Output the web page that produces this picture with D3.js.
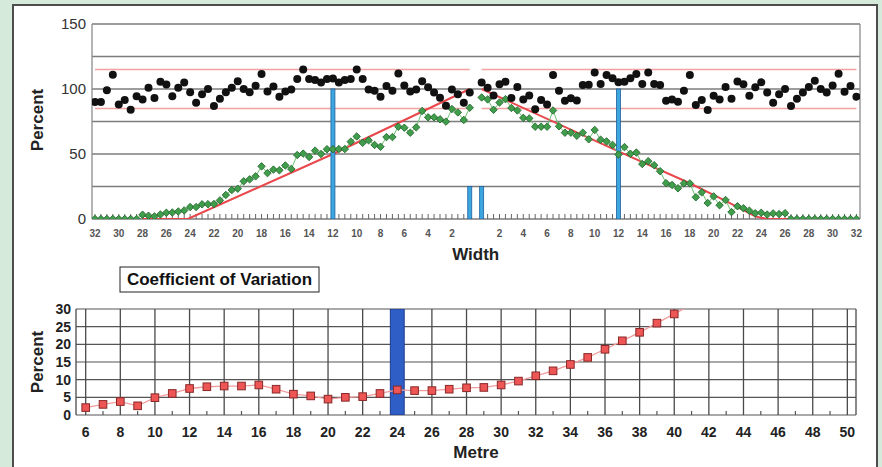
<!DOCTYPE html>
<html>
<head>
<meta charset="utf-8">
<script src="https://cdn.jsdelivr.net/npm/d3@7"></script>
<style>
    body { margin: 0; background: #d6eadc; }
    svg { display: block; font-family: "Liberation Sans", Arial, sans-serif; }
</style>
</head>
<body>
<svg id="chart" width="882" height="467"></svg>
<script>
// ---- top chart: width profile, sampled every 0.5 on each side ----
const leftPos = d3.range(-32, 0, 0.5);      // -32 ... -0.5
const rightPos = d3.range(0.5, 32.5, 0.5);  // 0.5 ... 32

const blackLeft = [90, 90, 99, 111, 88, 91.5, 84, 94.5, 92, 101, 93, 105.5, 103.5, 94.5, 101, 105,
    97.5, 89.5, 96, 100, 87, 92.5, 97.5, 101, 106, 100, 97.5, 102.5, 111.5, 98, 102, 94,
    98, 99.7, 107.7, 115, 107.7, 107, 105, 107.7, 108, 105, 107, 107.7, 115, 107.7, 99.7, 98.7,
    94, 102.3, 98.7, 112, 102.6, 98, 99.7, 106, 101.3, 97.4, 93.3, 87.2, 99.7, 96, 89.5, 97.4];
const blackRight = [105, 101, 95, 103.7, 105.6, 93, 101.5, 92, 95, 84.5, 91.5, 88, 110.8, 98.7, 91, 92.8,
    91.2, 103, 103.3, 112.6, 103.8, 110.8, 108.2, 105.1, 105.6, 108.2, 111.5, 103.8, 112.6, 103.8, 103, 91,
    92, 90.2, 98.7, 110.8, 87.7, 91.5, 83.8, 94.9, 92, 101.5, 92.5, 105.8, 103.7, 94.8, 101.3, 105.1,
    97.4, 89.5, 96, 100, 87, 92.5, 97.4, 101.5, 106.4, 100, 97.4, 102.7, 111.7, 97.9, 102.3, 94.1];

const greenLeft = [0, 0, 0, 0, 0, 0, 0, 0, 3.3, 2.5, 2, 3.5, 4.8, 5, 5.8, 6.6,
    9.2, 9.2, 11.3, 11.4, 11.5, 14.3, 18.5, 22.3, 23.3, 29, 30.5, 32.8, 40.5, 35.3, 38, 37.5,
    41.2, 38.5, 49.2, 50.3, 47.7, 52.6, 50, 53.7, 53.7, 53.8, 53.8, 59.5, 63.5, 58.6, 60.5, 57,
    55.6, 63, 63, 71, 70.2, 66.4, 70.5, 83.1, 78.2, 78.2, 76.7, 74.9, 84.6, 82, 76.2, 85.6];
const greenRight = [93.5, 92, 84, 89.6, 92.2, 85.4, 83.5, 77.8, 77.4, 71, 71, 71, 83.5, 71.3, 66.4, 66.4,
    64, 66.4, 61.3, 68.5, 61, 59.7, 57, 49.6, 55.3, 50.2, 51.1, 42.3, 44.5, 41.4, 36.8, 27.6,
    26.2, 23.6, 27.4, 27.4, 16.7, 20.5, 12.3, 17.4, 10.6, 14.6, 5.3, 9.8, 8.3, 6.4, 4.4, 4.8,
    3.4, 4.3, 3.8, 4.5, 0, 0, 0, 0, 0, 0, 0, 0, 0, 0, 0, 0];

const limitValues = [115, 85];
const trendLeft = [[-28, 0], [-24.2, 0], [-12, 50], [-0.5, 100]];
const trendRight = [[0.5, 100], [12, 52], [18, 27.5], [21, 14], [23.5, 2], [24.5, 0], [26.5, 0]];
const markerBars = [{ x: -12, v: 100 }, { x: -0.5, v: 25 }, { x: 0.5, v: 25 }, { x: 12, v: 100 }];

const widthLabels = [2, 4, 6, 8, 10, 12, 14, 16, 18, 20, 22, 24, 26, 28, 30, 32];
const percentTicks = [0, 50, 100, 150];
const percentGrid = [0, 25, 50, 75, 100, 125, 150];

// ---- bottom chart: coefficient of variation by metre ----
const metres = d3.range(6, 42);
const cv = [2.1, 3.0, 3.8, 2.6, 4.9, 6.1, 7.5, 8.0, 8.2, 8.2, 8.5, 7.3, 5.9, 5.4, 4.5, 5.0, 5.2, 6.1,
    7.1, 6.9, 6.9, 7.3, 7.7, 7.8, 8.5, 9.6, 11.1, 12.5, 14.3, 16.3, 18.6, 21.0, 23.4, 26.0, 28.6, 31.2];
const cvMarker = [{ x: 24, v: 30 }];
const metreLabels = d3.range(6, 51, 2);
const metreMinor = d3.range(7, 50, 2);
const cvTicks = [0, 5, 10, 15, 20, 25, 30];

const svg = d3.select("#chart");

// panel
svg.append("rect")
    .attr("x", 13).attr("y", 5)
    .attr("width", 864).attr("height", 475)
    .attr("fill", "#fff")
    .attr("stroke", "#4d4d4d")
    .attr("stroke-width", 2);

// ================= TOP CHART =================
const xTop = d3.scaleLinear().domain([-32.25, 32.3]).range([92, 860]);
const yTop = d3.scaleLinear().domain([0, 150]).range([219, 24]);

const topG = svg.append("g");
topG.append("clipPath").attr("id", "clipTop")
    .append("rect")
    .attr("x", xTop.range()[0]).attr("y", yTop(150))
    .attr("width", xTop.range()[1] - xTop.range()[0])
    .attr("height", yTop(0) - yTop(150));

// gridlines
topG.selectAll("line.grid")
    .data(percentGrid)
    .enter()
    .append("line")
    .attr("x1", xTop.range()[0]).attr("x2", xTop.range()[1])
    .attr("y1", d => yTop(d)).attr("y2", d => yTop(d))
    .attr("stroke", "#7d7d7d")
    .attr("stroke-width", 1.3);

// plot borders
topG.selectAll("line.border")
    .data(xTop.range())
    .enter()
    .append("line")
    .attr("x1", d => d).attr("x2", d => d)
    .attr("y1", yTop(150)).attr("y2", yTop(0))
    .attr("stroke", "#8c8c8c")
    .attr("stroke-width", 1.3);

const plotTop = topG.append("g").attr("clip-path", "url(#clipTop)");

// limit lines, drawn separately for each side
const sides = [leftPos, rightPos];
limitValues.forEach(v => {
    sides.forEach(pos => {
        plotTop.append("line")
            .attr("x1", xTop(pos[0])).attr("x2", xTop(pos[pos.length - 1]))
            .attr("y1", yTop(v)).attr("y2", yTop(v))
            .attr("stroke", "#f3a1a1")
            .attr("stroke-width", 1.5);
    });
});

// tick marks along the width axis
plotTop.selectAll("line.tick")
    .data(leftPos.concat(rightPos))
    .enter()
    .append("line")
    .attr("x1", d => xTop(d)).attr("x2", d => xTop(d))
    .attr("y1", yTop(0)).attr("y2", yTop(0) - 5)
    .attr("stroke", "#666")
    .attr("stroke-width", 1);

// trend lines
const trendLine = d3.line().x(d => xTop(d[0])).y(d => yTop(d[1]));
[trendLeft, trendRight].forEach(t => {
    plotTop.append("path")
        .attr("d", trendLine(t))
        .attr("fill", "none")
        .attr("stroke", "#e9474b")
        .attr("stroke-width", 2);
});

// blue marker bars
plotTop.selectAll("rect.bar")
    .data(markerBars)
    .enter()
    .append("rect")
    .attr("x", d => xTop(d.x) - 2)
    .attr("y", d => yTop(d.v))
    .attr("width", 4)
    .attr("height", d => yTop(0) - yTop(d.v))
    .attr("fill", "#3ca7df")
    .attr("stroke", "#1f5f9f")
    .attr("stroke-width", 0.8);

// green series
const greenSides = [
    leftPos.map((p, i) => [p, greenLeft[i]]),
    rightPos.map((p, i) => [p, greenRight[i]])
];
greenSides.forEach(pts => {
    plotTop.append("path")
        .attr("d", trendLine(pts))
        .attr("fill", "none")
        .attr("stroke", "#6cc070")
        .attr("stroke-width", 1);
    plotTop.selectAll(null)
        .data(pts)
        .enter()
        .append("path")
        .attr("d", d3.symbol(d3.symbolSquare, 28)())
        .attr("transform", d => `translate(${xTop(d[0])},${yTop(d[1])}) rotate(45)`)
        .attr("fill", "#3f9d4b")
        .attr("stroke", "#24662c")
        .attr("stroke-width", 0.8);
});

// black series
const blackPts = leftPos.map((p, i) => [p, blackLeft[i]])
    .concat(rightPos.map((p, i) => [p, blackRight[i]]));
plotTop.selectAll("circle")
    .data(blackPts)
    .enter()
    .append("circle")
    .attr("cx", d => xTop(d[0]))
    .attr("cy", d => yTop(d[1]))
    .attr("r", 4)
    .attr("fill", "#111");

// y labels
topG.selectAll("text.ylab")
    .data(percentTicks)
    .enter()
    .append("text")
    .attr("x", 86)
    .attr("y", d => yTop(d))
    .attr("dy", "0.36em")
    .attr("text-anchor", "end")
    .attr("font-size", 15)
    .attr("fill", "#333")
    .text(d => d);

// x labels on both sides of the centre
const widthLabelPts = widthLabels.map(v => [-v, v]).concat(widthLabels.map(v => [v, v]));
topG.selectAll("text.xlab")
    .data(widthLabelPts)
    .enter()
    .append("text")
    .attr("x", d => xTop(d[0]))
    .attr("y", 237)
    .attr("text-anchor", "middle")
    .attr("font-size", 10)
    .attr("font-weight", "bold")
    .attr("fill", "#555")
    .text(d => d[1]);

topG.append("text")
    .attr("transform", "translate(43,120) rotate(-90)")
    .attr("text-anchor", "middle")
    .attr("font-size", 17)
    .attr("font-weight", "bold")
    .attr("fill", "#222")
    .text("Percent");

topG.append("text")
    .attr("x", xTop(0))
    .attr("y", 260)
    .attr("text-anchor", "middle")
    .attr("font-size", 17)
    .attr("font-weight", "bold")
    .attr("fill", "#222")
    .text("Width");

// ================= BOTTOM CHART =================
const xBot = d3.scaleLinear().domain([5.44, 50.5]).range([76, 856]);
const yBot = d3.scaleLinear().domain([0, 30]).range([415, 309]);

const botG = svg.append("g");

// title box
botG.append("rect")
    .attr("x", 120).attr("y", 267)
    .attr("width", 199).attr("height", 25)
    .attr("fill", "#fff")
    .attr("stroke", "#222")
    .attr("stroke-width", 1);
botG.append("text")
    .attr("x", 219.5).attr("y", 285)
    .attr("text-anchor", "middle")
    .attr("font-size", 17)
    .attr("font-weight", "bold")
    .attr("fill", "#111")
    .text("Coefficient of Variation");

botG.append("clipPath").attr("id", "clipBot")
    .append("rect")
    .attr("x", xBot.range()[0]).attr("y", yBot(30))
    .attr("width", xBot.range()[1] - xBot.range()[0])
    .attr("height", yBot(0) - yBot(30));

// horizontal gridlines
botG.selectAll("line.hgrid")
    .data(cvTicks)
    .enter()
    .append("line")
    .attr("x1", xBot.range()[0]).attr("x2", xBot.range()[1])
    .attr("y1", d => yBot(d)).attr("y2", d => yBot(d))
    .attr("stroke", "#555")
    .attr("stroke-width", 1.2);

// vertical gridlines + borders
botG.selectAll("line.vgrid")
    .data(metreLabels.map(d => xBot(d)).concat(xBot.range()))
    .enter()
    .append("line")
    .attr("x1", d => d).attr("x2", d => d)
    .attr("y1", yBot(30)).attr("y2", yBot(0))
    .attr("stroke", "#4a4a4a")
    .attr("stroke-width", 1.3);

// minor ticks
botG.selectAll("line.minor")
    .data(metreMinor)
    .enter()
    .append("line")
    .attr("x1", d => xBot(d)).attr("x2", d => xBot(d))
    .attr("y1", yBot(0)).attr("y2", yBot(0) - 4)
    .attr("stroke", "#555")
    .attr("stroke-width", 1.2);

const plotBot = botG.append("g").attr("clip-path", "url(#clipBot)");

plotBot.selectAll("rect.bar")
    .data(cvMarker)
    .enter()
    .append("rect")
    .attr("x", d => xBot(d.x - 0.4))
    .attr("y", d => yBot(d.v))
    .attr("width", d => xBot(d.x + 0.4) - xBot(d.x - 0.4))
    .attr("height", d => yBot(0) - yBot(d.v))
    .attr("fill", "#2f5ec6")
    .attr("stroke", "#1c3b8e")
    .attr("stroke-width", 1);

const cvPts = metres.map((m, i) => [m, cv[i]]);
plotBot.append("path")
    .attr("d", d3.line().x(d => xBot(d[0])).y(d => yBot(d[1]))(cvPts))
    .attr("fill", "none")
    .attr("stroke", "#f29d9d")
    .attr("stroke-width", 1.3);

plotBot.selectAll("rect.pt")
    .data(cvPts.filter(d => d[1] <= 30))
    .enter()
    .append("rect")
    .attr("x", d => xBot(d[0]) - 3.8)
    .attr("y", d => yBot(d[1]) - 3.8)
    .attr("width", 7.6)
    .attr("height", 7.6)
    .attr("fill", "#ee5656")
    .attr("stroke", "#8a2727")
    .attr("stroke-width", 1);

// axis labels
botG.selectAll("text.ylab")
    .data(cvTicks)
    .enter()
    .append("text")
    .attr("x", 71)
    .attr("y", d => yBot(d))
    .attr("dy", "0.36em")
    .attr("text-anchor", "end")
    .attr("font-size", 14)
    .attr("font-weight", "bold")
    .attr("fill", "#222")
    .text(d => d);

botG.selectAll("text.xlab")
    .data(metreLabels)
    .enter()
    .append("text")
    .attr("x", d => xBot(d))
    .attr("y", 437)
    .attr("text-anchor", "middle")
    .attr("font-size", 14)
    .attr("font-weight", "bold")
    .attr("fill", "#222")
    .text(d => d);

botG.append("text")
    .attr("transform", "translate(43,362) rotate(-90)")
    .attr("text-anchor", "middle")
    .attr("font-size", 17)
    .attr("font-weight", "bold")
    .attr("fill", "#222")
    .text("Percent");

botG.append("text")
    .attr("x", 476)
    .attr("y", 458)
    .attr("text-anchor", "middle")
    .attr("font-size", 17)
    .attr("font-weight", "bold")
    .attr("fill", "#222")
    .text("Metre");
</script>
</body>
</html>
